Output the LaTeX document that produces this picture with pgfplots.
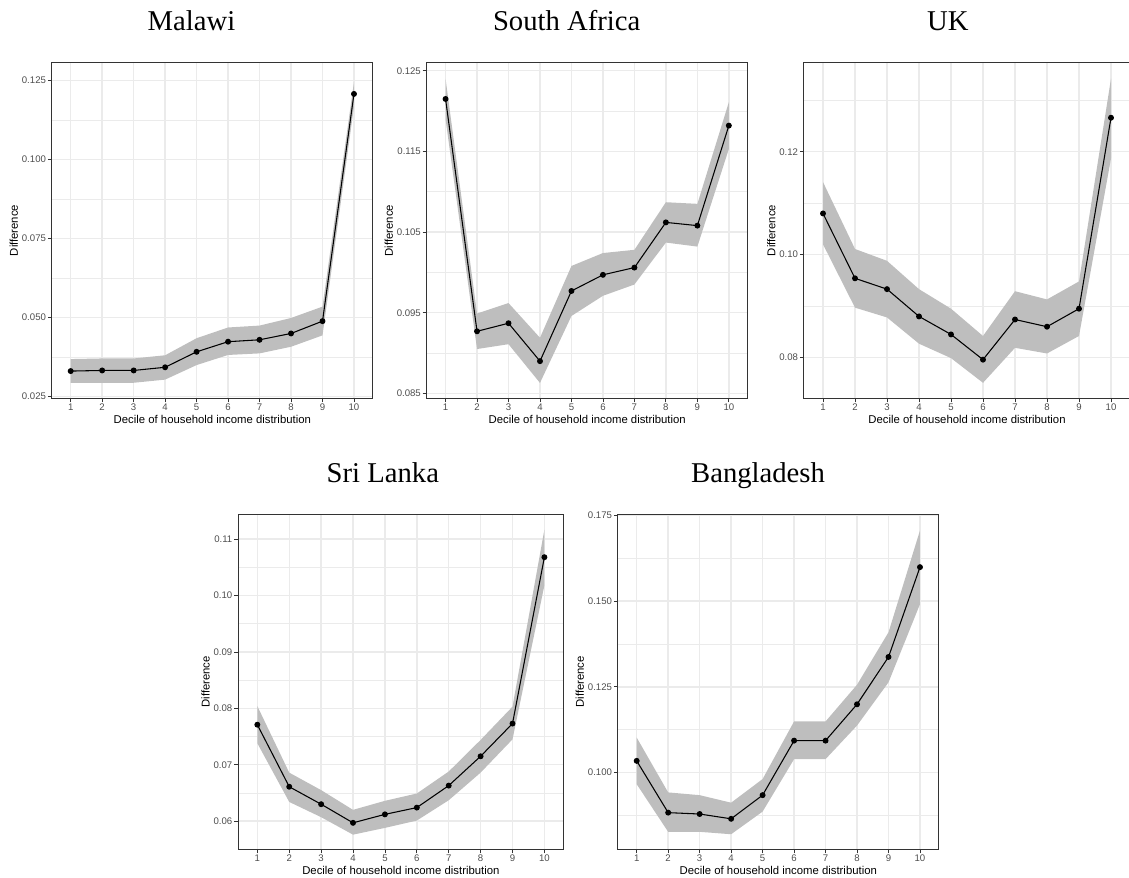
\documentclass[border=0pt]{standalone}
\usepackage{fontspec}
\setmainfont{Liberation Sans}
\newfontfamily\titlefont{Liberation Serif}
\usepackage{pgfplots}
\pgfplotsset{compat=1.18}
\usepackage{pgfplotstable}
\usepgfplotslibrary{fillbetween}
\definecolor{rib}{RGB}{190,190,190}
\definecolor{gridc}{RGB}{235,235,235}
\definecolor{bordc}{RGB}{51,51,51}
\definecolor{tickc}{RGB}{77,77,77}

\pgfplotstableread{
x y lo hi
1 0.0331 0.0294 0.0369
2 0.0333 0.0294 0.0371
3 0.0333 0.0294 0.0371
4 0.0343 0.0304 0.0381
5 0.0392 0.0350 0.0435
6 0.0424 0.0382 0.0469
7 0.0430 0.0387 0.0475
8 0.0450 0.0408 0.0499
9 0.0489 0.0444 0.0535
10 0.1208 0.1168 0.1245
}\dMal

\pgfplotstableread{
x y lo hi
1 0.1215 0.1190 0.1240
2 0.0927 0.0905 0.0949
3 0.0937 0.0911 0.0962
4 0.0890 0.0863 0.0919
5 0.0977 0.0946 0.1008
6 0.0997 0.0971 0.1024
7 0.1006 0.0985 0.1028
8 0.1062 0.1037 0.1087
9 0.1058 0.1032 0.1085
10 0.1182 0.1153 0.1211
}\dSA

\pgfplotstableread{
x y lo hi
1 0.1080 0.1020 0.1141
2 0.0954 0.0897 0.1011
3 0.0933 0.0878 0.0988
4 0.0880 0.0827 0.0933
5 0.0845 0.0799 0.0895
6 0.0796 0.0751 0.0842
7 0.0874 0.0819 0.0929
8 0.0860 0.0808 0.0913
9 0.0895 0.0842 0.0948
10 0.1266 0.1187 0.1342
}\dUK

\pgfplotstableread{
x y lo hi
1 0.0771 0.0738 0.0804
2 0.0661 0.0634 0.0686
3 0.0630 0.0607 0.0655
4 0.0597 0.0576 0.0620
5 0.0612 0.0588 0.0636
6 0.0624 0.0601 0.0649
7 0.0663 0.0637 0.0688
8 0.0715 0.0686 0.0744
9 0.0773 0.0745 0.0803
10 0.1068 0.1018 0.1117
}\dSL

\pgfplotstableread{
x y lo hi
1 0.1034 0.0966 0.1102
2 0.0883 0.0827 0.0942
3 0.0879 0.0827 0.0934
4 0.0865 0.0820 0.0912
5 0.0934 0.0886 0.0981
6 0.1093 0.1039 0.1149
7 0.1093 0.1039 0.1149
8 0.1199 0.1137 0.1256
9 0.1337 0.1263 0.1409
10 0.1599 0.1491 0.1706
}\dBD

\pgfplotsset{
 panel/.style={
  scale only axis, anchor=south west,
  xmin=0.4, xmax=10.6,
  xtick={1,...,10},
  xticklabels={1,2,3,4,5,6,7,8,9,10},
  tick pos=left,
  tick align=outside,
  major tick length=3pt,
  minor tick length=0pt,
  grid=both,
  major grid style={gridc, line width=1.1pt},
  minor grid style={gridc, line width=0.55pt},
  axis line style={bordc, line width=0.6pt},
  tick style={bordc, line width=0.6pt},
  tick label style={font=\fontsize{7.2}{8}\selectfont, text=tickc, inner sep=1.2pt},
  label style={font=\fontsize{8.5}{10}\selectfont},
  xlabel={Decile of household income distribution},
  ylabel={Difference},
  xlabel style={inner sep=1.5pt},
  ylabel style={inner sep=1.5pt},
  title style={font=\titlefont\fontsize{21.5}{24}\selectfont, at={(axis description cs:0.5,1)}, anchor=base, yshift=18pt},
 },
}

\newcommand{\panelplots}[1]{%
  \addplot[draw=none, name path=hi] table[x=x,y=hi]{#1};
  \addplot[draw=none, name path=lo] table[x=x,y=lo]{#1};
  \addplot[rib, draw=none] fill between[of=hi and lo];
  \addplot[black, line width=0.8pt, mark=*, mark size=1.8pt] table[x=x,y=y]{#1};
}

\begin{document}
\begin{tikzpicture}

% Malawi
\begin{axis}[panel, at={(38.85pt,359.8pt)}, width=240.8pt, height=251.7pt,
  ymin=0.0245, ymax=0.1307,
  ytick={0.025,0.05,0.075,0.1,0.125},
  yticklabels={0.025,0.050,0.075,0.100,0.125},
  minor ytick={0.0375,0.0625,0.0875,0.1125},
  title={Malawi}, title style={xshift=-15.6pt}]
\panelplots{\dMal}
\end{axis}

% South Africa
\begin{axis}[panel, at={(320.0pt,359.8pt)}, width=240.8pt, height=251.7pt,
  ymin=0.0844, ymax=0.1260,
  ytick={0.085,0.095,0.105,0.115,0.125},
  yticklabels={0.085,0.095,0.105,0.115,0.125},
  minor ytick={0.09,0.10,0.11,0.12},
  title={South Africa}, title style={xshift=-15.4pt}]
\panelplots{\dSA}
\end{axis}

% UK
\begin{axis}[panel, at={(602.85pt,359.8pt)}, width=244.8pt, height=251.7pt,
  ymin=0.0721, ymax=0.1373,
  ytick={0.08,0.10,0.12},
  yticklabels={0.08,0.10,0.12},
  minor ytick={0.09,0.11,0.13},
  title={UK}, title style={xshift=-14.3pt}]
\panelplots{\dUK}
\end{axis}

% Sri Lanka
\begin{axis}[panel, at={(178.65pt,21.5pt)}, width=244pt, height=251.25pt,
  ymin=0.0550, ymax=0.1144,
  ytick={0.06,0.07,0.08,0.09,0.10,0.11},
  yticklabels={0.06,0.07,0.08,0.09,0.10,0.11},
  minor ytick={0.065,0.075,0.085,0.095,0.105},
  title={Sri Lanka}, title style={xshift=-13.5pt}]
\panelplots{\dSL}
\end{axis}

% Bangladesh
\begin{axis}[panel, at={(463.35pt,21.5pt)}, width=240.8pt, height=251.25pt,
  ymin=0.0776, ymax=0.1753,
  ytick={0.1,0.125,0.15,0.175},
  yticklabels={0.100,0.125,0.150,0.175},
  minor ytick={0.0875,0.1125,0.1375,0.1625},
  title={Bangladesh}, title style={xshift=-15.2pt}]
\panelplots{\dBD}
\end{axis}

\pgfresetboundingbox
\path (0,0) rectangle (846.75pt,658.5pt);
\end{tikzpicture}
\end{document}
